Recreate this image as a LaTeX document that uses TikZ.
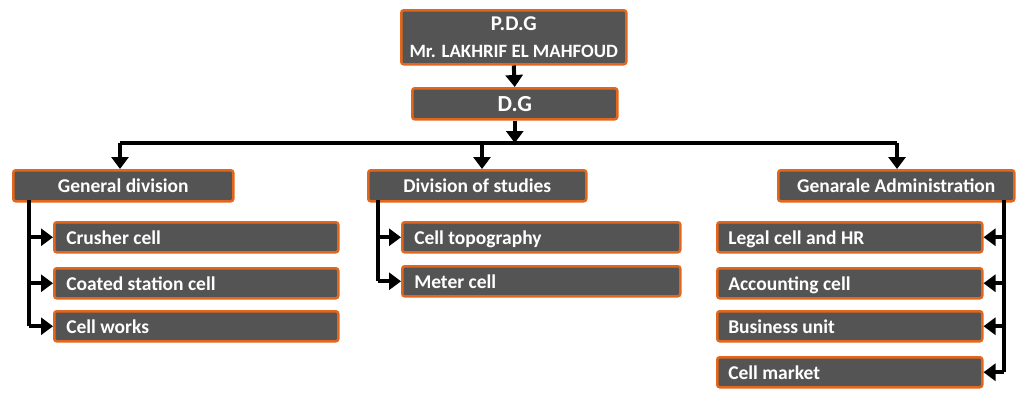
\documentclass[tikz,border=0pt]{standalone}
\usepackage{fontspec}
\setmainfont{Carlito}
\usetikzlibrary{arrows.meta}
\definecolor{boxfill}{HTML}{545454}
\definecolor{boxline}{HTML}{E2671C}
\newcommand\cellbox[2]{\makebox[#1][l]{#2}}
\begin{document}
\begin{tikzpicture}[x=1pt,y=-1pt,
  box/.style={draw=boxline,line width=2.5pt,fill=boxfill,rounded corners=2.5pt,
    text=white,font=\bfseries\fontsize{19.5}{22}\selectfont,anchor=north west,inner sep=0pt},
  conn/.style={line width=4pt,black},
  arr/.style={conn,-{Triangle[width=17pt,length=12pt]}}]
\useasboundingbox (0,0) rectangle (1024,400);
% top
\node[box,minimum width=225pt,minimum height=54pt,align=center] (pdg) at (400,9)
  {{\fontsize{21}{22}\selectfont P.D.G}\\[5pt]{\fontsize{18.8}{20}\selectfont Mr. LAKHRIF EL MAHFOUD}};
\node[box,minimum width=205pt,minimum height=31pt,font=\bfseries\fontsize{23}{24}\selectfont] (dg) at (411,87) {D.G};
\draw[arr] (pdg.south) -- (dg.north);
\coordinate (bus) at (513.5,143);
\coordinate (busL) at (120,143);
\coordinate (busM) at (482,143);
\coordinate (busR) at (897,143);
\draw[arr] (dg.south) -- (dg.south |- bus);
\draw[conn] (busL) -- (busR);
% headers
\node[box,minimum width=220pt,minimum height=31pt] (gd) at (12,169) {General division};
\node[box,minimum width=218pt,minimum height=31pt] (ds) at (367,169) {Division of studies};
\node[box,minimum width=236pt,minimum height=31pt] (ga) at (777,169) {Genarale Administration};
\draw[arr] (busL) -- (busL |- gd.north);
\draw[arr] (busM) -- (busM |- ds.north);
\draw[arr] (busR) -- (busR |- ga.north);
% cells
\tikzset{lc/.style={box,minimum height=30pt,text depth=0pt}}
\node[lc,inner xsep=12pt] (c1) at (53,221) {\cellbox{260pt}{Crusher cell}};
\node[lc,inner xsep=12pt] (c2) at (53,267) {\cellbox{260pt}{Coated station cell}};
\node[lc,inner xsep=12pt] (c3) at (53,310) {\cellbox{260pt}{Cell works}};
\node[lc,inner xsep=12pt] (d1) at (401,221) {\cellbox{254pt}{Cell topography}};
\node[lc,inner xsep=12pt] (d2) at (401,265) {\cellbox{254pt}{Meter cell}};
\node[lc,inner xsep=11pt] (a1) at (716,221) {\cellbox{243pt}{Legal cell and HR}};
\node[lc,inner xsep=11pt] (a2) at (716,267) {\cellbox{243pt}{Accounting cell}};
\node[lc,inner xsep=11pt] (a3) at (716,310) {\cellbox{243pt}{Business unit}};
\node[lc,inner xsep=11pt] (a4) at (716,356) {\cellbox{243pt}{Cell market}};
% branches
\coordinate (gdx) at (29,200);
\coordinate (dsx) at (378,200);
\coordinate (gax) at (1004,200);
\draw[conn] (gdx) -- (gdx |- c3.west);
\foreach \c in {c1,c2,c3} \draw[arr] (gdx |- \c.west) -- (\c.west);
\draw[conn] (dsx) -- (dsx |- d2.west);
\foreach \c in {d1,d2} \draw[arr] (dsx |- \c.west) -- (\c.west);
\draw[conn] (gax) -- (gax |- a4.east);
\foreach \c in {a1,a2,a3,a4} \draw[arr] (gax |- \c.east) -- (\c.east);
\end{tikzpicture}
\end{document}
